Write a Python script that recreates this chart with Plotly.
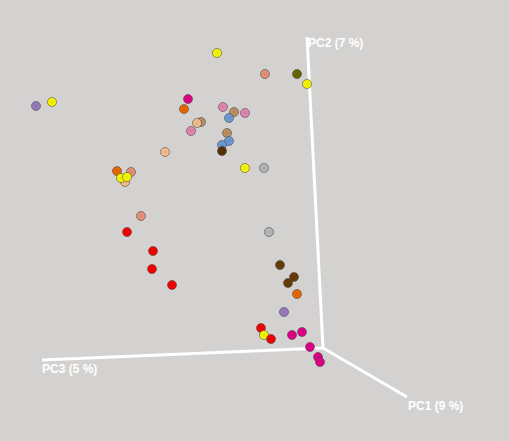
import plotly.graph_objects as go

# Projected sample positions (screen units of the 3D PCoA view)
sample_x = [217, 265, 297, 307, 36, 52, 188, 184, 223, 234, 245, 229, 201, 197, 191, 227, 229, 222, 222,
            165, 245, 264, 117, 131, 125, 121, 127, 141, 127, 153, 152, 172, 269, 280, 294, 288, 297,
            284, 261, 264, 271, 292, 302, 310, 318, 320]
sample_y = [53, 74, 74, 84, 106, 102, 99, 109, 107, 112, 113, 118, 122, 123, 131, 133, 141, 145, 151,
            152, 168, 168, 171, 172, 182, 178, 177, 216, 232, 251, 269, 285, 232, 265, 277, 283, 294,
            312, 328, 335, 339, 335, 332, 347, 357, 362]
sample_group = ["yellow", "salmon", "olive", "yellow", "purple", "yellow", "magenta", "orange", "pink", "tan",
                "pink", "blue", "tan", "peach", "pink", "tan", "blue", "blue", "darkbrown",
                "peach", "yellow", "silver", "orange", "salmon", "peach", "yellow", "yellow", "salmon",
                "red", "red", "red", "red", "silver", "brown", "brown", "brown", "orange",
                "purple", "red", "yellow", "red", "magenta", "magenta", "magenta", "magenta", "magenta"]

# Axis geometry (origin and arrow ends) and labels
axis_names = ["PC1 (9 %)", "PC2 (7 %)", "PC3 (5 %)"]
origin = (323, 348)
axis_end_x = [407, 307, 42]
axis_end_y = [397, 37, 360]

group_colors = {
    "yellow": "#ffff00", "salmon": "#e9967a", "olive": "#6b6b00", "purple": "#9b7fc0",
    "magenta": "#e8008a", "orange": "#f26b00", "pink": "#e98bb8", "tan": "#c49464",
    "blue": "#6f9fd8", "darkbrown": "#5a3200", "peach": "#f8c48e", "silver": "#bdbdbd",
    "red": "#ff0000", "brown": "#6b3e05",
}


def darker(hex_color, f=0.9):
    h = hex_color.lstrip("#")
    r, g, b = (int(h[i:i + 2], 16) for i in (0, 2, 4))
    return "rgb(%d,%d,%d)" % (r * f, g * f, b * f)


fig = go.Figure()

# axis lines
for ex, ey in zip(axis_end_x, axis_end_y):
    fig.add_trace(go.Scatter(x=[origin[0], ex], y=[origin[1], ey], mode="lines",
                             line=dict(color="white", width=3), hoverinfo="skip", showlegend=False))

fig.add_trace(go.Scatter(
    x=sample_x, y=sample_y, mode="markers", showlegend=False,
    marker=dict(size=9, color=[group_colors[g] for g in sample_group],
                gradient=dict(type="radial", color=[darker(group_colors[g]) for g in sample_group]),
                line=dict(color="rgba(60,60,60,0.55)", width=1)),
))

label_offsets = [(-1, 9), (-1, 6), (-2, 9)]
for name, ex, ey, (dx, dy) in zip(axis_names, axis_end_x, axis_end_y, label_offsets):
    fig.add_annotation(x=ex + dx, y=ey + dy, text=name, showarrow=False, xanchor="left", yanchor="middle",
                       font=dict(family="Liberation Sans, Arial", size=12, color="white", weight=600))

fig.update_layout(
    width=509, height=441, margin=dict(l=0, r=0, t=0, b=0),
    paper_bgcolor="#d4d2d1", plot_bgcolor="#d4d2d1",
    xaxis=dict(range=[0, 509], visible=False, fixedrange=True),
    yaxis=dict(range=[441, 0], visible=False, fixedrange=True),
)

fig.write_html("out.html")
